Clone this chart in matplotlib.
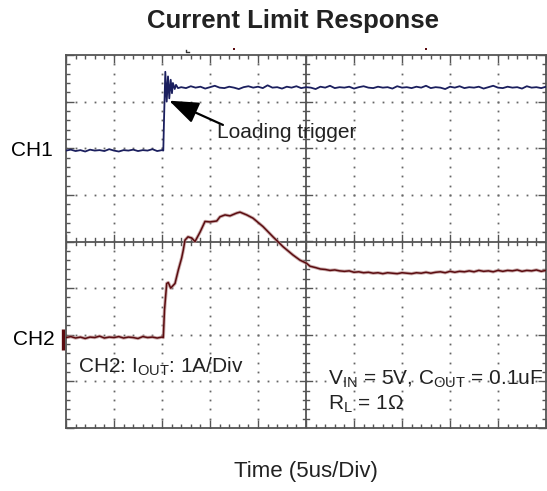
import numpy as np
import matplotlib
matplotlib.use("Agg")
import matplotlib.pyplot as plt

plt.rcParams['font.family'] = ['Liberation Sans', 'DejaVu Sans']
plt.rcParams['mathtext.fontset'] = 'custom'
plt.rcParams['mathtext.rm'] = 'Liberation Sans'
plt.rcParams['mathtext.it'] = 'Liberation Sans'

# ---- data (time in divisions, 5 us/div; amplitude in divisions) ----
ch1_pre_t = np.linspace(0.0, 2.0, 21)
ch1_pre_v = [1.95, 1.97, 1.94, 1.96, 1.93, 1.97, 1.95, 1.96, 1.94, 1.98, 1.95,
             1.93, 1.96, 1.95, 1.97, 1.94, 1.96, 1.95, 1.98, 1.94, 1.96]
ch1_step_t = [2.027, 2.042, 2.069, 2.098, 2.125, 2.152, 2.181, 2.208, 2.227,
              2.265, 2.292, 2.333]
ch1_step_v = [1.95, 2.61, 3.64, 3.00, 3.54, 3.07, 3.47, 3.18, 3.40, 3.27, 3.36, 3.29]
ch1_post_t = np.linspace(2.4, 10.0, 77)
ch1_post_v = [3.31, 3.29, 3.33, 3.30, 3.32, 3.28, 3.31, 3.34, 3.30, 3.29,
              3.32, 3.30, 3.27, 3.31, 3.33, 3.30, 3.32, 3.29, 3.35, 3.30,
              3.31, 3.28, 3.32, 3.30, 3.33, 3.29, 3.31, 3.30, 3.27, 3.32,
              3.30, 3.34, 3.29, 3.31, 3.30, 3.32, 3.28, 3.31, 3.33, 3.30,
              3.29, 3.32, 3.30, 3.31, 3.28, 3.33, 3.30, 3.31, 3.29, 3.32,
              3.30, 3.34, 3.29, 3.31, 3.30, 3.27, 3.32, 3.30, 3.33, 3.29,
              3.31, 3.30, 3.32, 3.28, 3.31, 3.34, 3.30, 3.29, 3.32, 3.30,
              3.31, 3.28, 3.33, 3.30, 3.31, 3.29, 3.32]

ch2_pre_t = np.linspace(0.0, 2.0, 21)
ch2_pre_v = [-2.06, -2.04, -2.07, -2.05, -2.08, -2.05, -2.06, -2.03, -2.07, -2.05,
             -2.06, -2.04, -2.07, -2.05, -2.06, -2.08, -2.04, -2.06, -2.05, -2.07, -2.05]
ch2_rise_t = [2.027, 2.052, 2.098, 2.131, 2.181, 2.271, 2.34, 2.41, 2.444, 2.479,
              2.542, 2.619, 2.688, 2.792, 2.896, 3.0, 3.14, 3.208, 3.3125, 3.417,
              3.556, 3.625, 3.765, 3.896, 4.104, 4.3125, 4.52, 4.729, 4.875, 5.015, 5.083]
ch2_rise_v = [-2.06, -1.47, -0.90, -0.88, -1.00, -0.90, -0.61, -0.35, -0.18, 0.03,
              0.10, 0.075, 0.0, 0.20, 0.43, 0.42, 0.44, 0.53, 0.57, 0.55,
              0.61, 0.63, 0.57, 0.50, 0.32, 0.10, -0.11, -0.29, -0.40, -0.47, -0.53]
ch2_post_t = np.linspace(5.2, 10.0, 49)
ch2_post_v = [-0.56, -0.59, -0.60, -0.62, -0.61, -0.63, -0.64, -0.63,
              -0.66, -0.65, -0.67, -0.66, -0.68, -0.67, -0.69, -0.67, -0.68, -0.69,
              -0.67, -0.68, -0.69, -0.67, -0.68, -0.66, -0.68, -0.66, -0.65, -0.67,
              -0.64, -0.66, -0.64, -0.65, -0.63, -0.65, -0.62, -0.64, -0.63, -0.65,
              -0.62, -0.64, -0.62, -0.63, -0.61, -0.64, -0.62, -0.63, -0.61, -0.64,
              -0.62]

ch1_t = np.concatenate([ch1_pre_t, ch1_step_t, ch1_post_t])
ch1_v = np.concatenate([ch1_pre_v, ch1_step_v, ch1_post_v])
ch2_t = np.concatenate([ch2_pre_t, ch2_rise_t, ch2_post_t])
ch2_v = np.concatenate([ch2_pre_v, ch2_rise_v, ch2_post_v])

CH1_COLOR = '#1b1f5e'
CH2_COLOR = '#5b0c10'
GRID_COLOR = '#555555'

fig = plt.figure(figsize=(5.47, 4.91), dpi=100)
ax = fig.add_axes([66 / 547, 1 - 428 / 491, 480 / 547, 373 / 491])
ax.set_xlim(0, 10)
ax.set_ylim(-4, 4)

# dotted graticule
minor_x = np.arange(0, 10.001, 0.2)
minor_y = np.arange(-4, 4.001, 0.2)
for k in [1, 2, 3, 4, 6, 7, 8, 9]:
    ax.plot(np.full_like(minor_y, k), minor_y, ls='none', marker='s',
            ms=1.3, mew=0, color='#666666', zorder=1)
for j in [-3, -2, -1, 1, 2, 3]:
    ax.plot(minor_x, np.full_like(minor_x, j), ls='none', marker='s',
            ms=1.3, mew=0, color='#666666', zorder=1)

# center cross lines with ticks
ax.axhline(0, color=GRID_COLOR, lw=1.3, zorder=1)
ax.axvline(5, color=GRID_COLOR, lw=1.3, zorder=1)
for xv in minor_x:
    h = 0.13 if abs(xv - round(xv)) < 1e-6 else 0.07
    ax.plot([xv, xv], [-h, h], color=GRID_COLOR, lw=1.0, zorder=1)
for yv in minor_y:
    w = 0.13 if abs(yv - round(yv)) < 1e-6 else 0.07
    ax.plot([5 - w, 5 + w], [yv, yv], color=GRID_COLOR, lw=1.0, zorder=1)

# frame ticks
ax.set_xticks(np.arange(0, 10.001, 1))
ax.set_yticks(np.arange(-4, 4.001, 1))
ax.set_xticks(minor_x, minor=True)
ax.set_yticks(minor_y, minor=True)
ax.tick_params(which='both', direction='in', top=True, right=True,
               labelbottom=False, labelleft=False, color=GRID_COLOR, width=1.0)
ax.tick_params(which='major', length=6)
ax.tick_params(which='minor', length=3)
for s in ax.spines.values():
    s.set_color(GRID_COLOR)
    s.set_linewidth(1.3)

# traces
ax.plot(ch1_t, ch1_v, color=CH1_COLOR, lw=1.3, zorder=3)
ax.plot(ch2_t, ch2_v, color='#b58a8a', lw=2.4, alpha=0.7, zorder=2)
ax.plot(ch2_t, ch2_v, color=CH2_COLOR, lw=1.1, zorder=3)

# ground marker for CH2 and trigger marks
ax.plot([-0.06, -0.06], [-1.88, -2.33], color=CH2_COLOR, lw=2.4,
        clip_on=False, solid_capstyle='butt')
ax.plot([2.5, 2.5, 2.56], [4.10, 4.06, 4.06], color='#333333', lw=1.0, clip_on=False)
ax.plot([3.5], [4.12], marker='s', ms=1.6, mew=0, color=CH2_COLOR, clip_on=False)
ax.plot([7.5], [4.12], marker='s', ms=1.8, mew=0, color=CH2_COLOR, clip_on=False)

# channel labels
ax.text(-0.27, 1.96, 'CH1', ha='right', va='center', fontsize=15, clip_on=False)
ax.text(-0.24, -2.10, 'CH2', ha='right', va='center', fontsize=15, clip_on=False)

# annotations
ax.annotate('', xy=(2.15, 3.02), xytext=(3.27, 2.50),
            arrowprops=dict(arrowstyle='-|>,head_length=1.2,head_width=0.45',
                            mutation_scale=15, color='black', lw=1.6,
                            shrinkA=0, shrinkB=0))
ax.text(3.15, 2.33, 'Loading trigger', ha='left', va='center', fontsize=15,
        color='#222222')
ax.text(0.25, -2.68, r'CH2: I$_{\mathrm{OUT}}$: 1A/Div', ha='left', va='center',
        fontsize=15, color='#222222')
ax.text(5.46, -2.95, r'V$_{\mathrm{IN}}$ = 5V, C$_{\mathrm{OUT}}$ = 0.1uF', ha='left',
        va='center', fontsize=15, color='#222222')
ax.text(5.46, -3.50, r'R$_{\mathrm{L}}$ = 1$\Omega$', ha='left', va='center',
        fontsize=15, color='#222222')

fig.text(293 / 547, 1 - 21 / 491, 'Current Limit Response', ha='center', va='center',
         fontsize=18.5, fontweight='bold', color='#222222')
fig.text(306 / 547, 1 - 472 / 491, 'Time (5us/Div)', ha='center', va='center',
         fontsize=16, color='#222222')

fig.savefig('out.png', dpi=100)
